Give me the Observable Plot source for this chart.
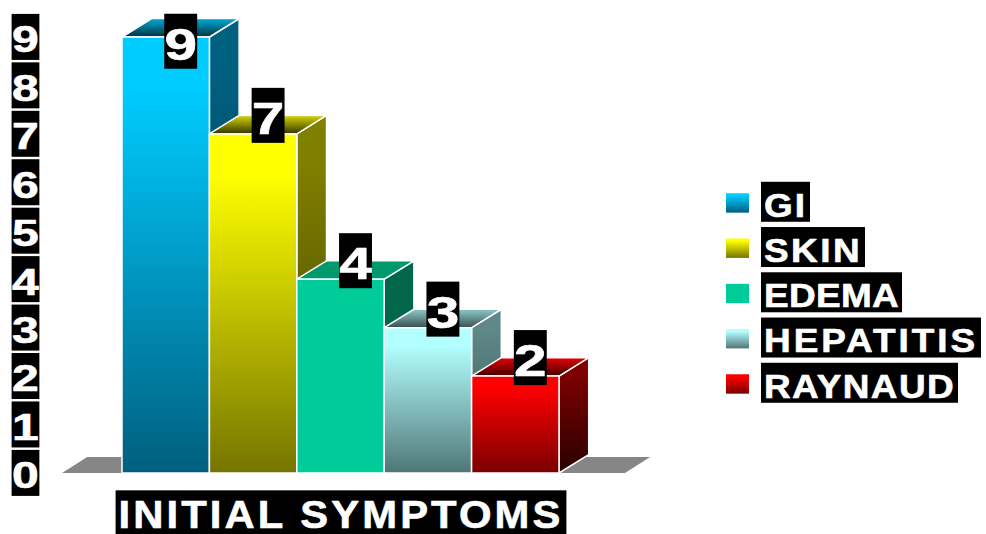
<!DOCTYPE html>
<html>
<head>
<meta charset="utf-8">
<style>
  html, body { margin: 0; padding: 0; background: #fff; }
  svg { display: block; }
</style>
<script src="https://cdn.jsdelivr.net/npm/d3@7"></script>
<script src="https://cdn.jsdelivr.net/npm/@observablehq/plot@0.6"></script>
</head>
<body>
<script>
// Symptom counts
const symptoms = ["GI", "SKIN", "EDEMA", "HEPATITIS", "RAYNAUD"];
const counts = [9, 7, 4, 3, 2];
const yTicks = [0, 1, 2, 3, 4, 5, 6, 7, 8, 9];
const titleText = "INITIAL SYMPTOMS";

// Shading of each box, [lit end, dark end]
const frontShades = [["#00ccff", "#005f7f"], ["#ffff00", "#757500"], ["#00cc99", "#00cc99"], ["#b3ffff", "#507676"], ["#ff0000", "#7a0000"]];
const sideShades = [["#006080", "#003040"], ["#808000", "#404000"], ["#00664c", "#00664c"], ["#5f8888", "#3a5555"], ["#800000", "#280000"]];
const topShades = [["#009ec6", "#003040"], ["#c4c400", "#333300"], ["#00996e", "#00996e"], ["#84bcbc", "#3a5050"], ["#d40000", "#400000"]];

// Box depth and floor extent, in scale units
const depthX = 0.34;
const depthY = 0.38;
const floorLeft = -0.686;
const floorRight = 5.755;
const floorDepthX = 0.288;
const floorDepthY = 0.33;

// Label placement, in scale units
const axisLabelX = -1.11;
const labelCeiling = 8.91;
const titleY = -0.805;
const swatchX = [6.911, 7.174];
const legendTextX = 7.34;
const legendTop = 5.594;
const legendStep = 0.934;
const swatchHalf = 0.2;

// Plate widths of the legend entries, in pixels
const legendPlateWidths = [49, 104, 141, 220, 197];

const bars = symptoms.map((name, i) => ({name, value: counts[i], i}));

function gradient(defs, id, [lit, dark]) {
  const g = defs.append("linearGradient").attr("id", id).attr("x1", 0).attr("y1", 0).attr("x2", 0).attr("y2", 1);
  g.append("stop").attr("offset", 0.12).attr("stop-color", lit);
  g.append("stop").attr("offset", 1).attr("stop-color", dark);
}

const gradientDefs = () => {
  const defs = d3.create("svg:defs");
  bars.forEach(({i}) => {
    gradient(defs, `front${i}`, frontShades[i]);
    gradient(defs, `side${i}`, sideShades[i]);
    gradient(defs, `top${i}`, topShades[i]);
  });
  return defs.node();
};

const edge = {stroke: "white", strokeWidth: 1.5, strokeLinejoin: "round"};

// One extruded box: side face, top face, then the front
const boxMarks = ({i, value}) => [
  Plot.areaY(
    [{x: i + 1, y1: 0, y2: value}, {x: i + 1 + depthX, y1: depthY, y2: value + depthY}],
    {x: "x", y1: "y1", y2: "y2", fill: `url(#side${i})`, ...edge}
  ),
  Plot.areaX(
    [{y: value, x1: i, x2: i + 1}, {y: value + depthY, x1: i + depthX, x2: i + 1 + depthX}],
    {y: "y", x1: "x1", x2: "x2", fill: `url(#top${i})`, ...edge}
  ),
  Plot.rect(
    [{x1: i, x2: i + 1, y1: 0, y2: value}],
    {x1: "x1", x2: "x2", y1: "y1", y2: "y2", fill: `url(#front${i})`, ...edge}
  )
];

const labelStyle = {
  fill: "white", stroke: "white", strokeWidth: 0.6,
  fontFamily: "'Liberation Sans', Arial, sans-serif", fontWeight: "bold"
};

const chart = Plot.plot({
  width: 986,
  height: 534,
  marginLeft: 122,
  marginRight: 427,
  marginTop: 37,
  marginBottom: 61,
  x: {domain: [0, 5], axis: null},
  y: {domain: [0, 9], axis: null},
  marks: [
    gradientDefs,
    Plot.areaX(
      [{y: 0, x1: floorLeft, x2: floorRight}, {y: floorDepthY, x1: floorLeft + floorDepthX, x2: floorRight + floorDepthX}],
      {y: "y", x1: "x1", x2: "x2", fill: "#868686"}
    ),
    ...bars.flatMap(boxMarks),
    Plot.text(yTicks, {
      x: () => axisLabelX, y: (d) => d, text: (d) => String(d),
      fontSize: 37, dy: 3, className: "tick-label", ...labelStyle
    }),
    Plot.text(bars, {
      x: (d) => d.i + 0.5 + depthX / 2 - 0.004,
      y: (d) => Math.min(d.value + depthY, labelCeiling),
      text: (d) => String(d.value),
      fontSize: 45, dy: 3.5, className: "value-label", ...labelStyle
    }),
    ...bars.map(({i}) => Plot.rect([i], {
      x1: () => swatchX[0], x2: () => swatchX[1],
      y1: (d) => legendTop - legendStep * d - swatchHalf - 0.02,
      y2: (d) => legendTop - legendStep * d + swatchHalf - 0.02,
      fill: `url(#front${i})`
    })),
    Plot.text(bars, {
      x: () => legendTextX,
      y: (d) => legendTop - legendStep * d.i,
      text: "name",
      textAnchor: "start",
      fontSize: 33, dy: 3.5, className: "legend-label", ...labelStyle
    }),
    Plot.text([titleText], {
      x: () => 2.5, y: () => titleY, text: (d) => d,
      fontSize: 38, dy: 3, className: "chart-title", ...labelStyle
    })
  ]
});

document.body.append(chart);

// Widen the glyphs of a label group and lay a black plate behind each label.
// With plateWidths, letter spacing is adjusted so each label fills its plate.
function plateLabels(className, {stretch, spacing = 0, plateHeight, padX, shift, plateWidths}) {
  const group = chart.querySelector(`.${className}`);
  if (!group) return;
  const ns = "http://www.w3.org/2000/svg";
  const plates = document.createElementNS(ns, "g");
  group.parentNode.insertBefore(plates, group);
  group.querySelectorAll("text").forEach((t, i) => {
    t.style.letterSpacing = `${spacing}px`;
    t.setAttribute("transform", `${t.getAttribute("transform") || ""} scale(${stretch} 1)`);
    let r = t.getBoundingClientRect();
    if (plateWidths) {
      const extra = (plateWidths[i] - 2 * padX - r.width) / (stretch * t.textContent.length);
      t.style.letterSpacing = `${spacing + extra}px`;
      r = t.getBoundingClientRect();
    }
    const plate = document.createElementNS(ns, "rect");
    plate.setAttribute("x", r.left - padX);
    plate.setAttribute("y", r.top + r.height / 2 - plateHeight / 2 - shift);
    plate.setAttribute("width", r.width + 2 * padX);
    plate.setAttribute("height", plateHeight);
    plate.setAttribute("fill", "black");
    plates.append(plate);
  });
}

plateLabels("tick-label", {stretch: 1.3, plateHeight: 46, padX: 0.5, shift: 2.5});
plateLabels("value-label", {stretch: 1.3, plateHeight: 55, padX: 0.2, shift: 3});
plateLabels("legend-label", {stretch: 1.12, plateHeight: 40, padX: 3, shift: 3, plateWidths: legendPlateWidths});
plateLabels("chart-title", {stretch: 1.1, spacing: 2.8, plateHeight: 44, padX: 3, shift: 2});
</script>
</body>
</html>
